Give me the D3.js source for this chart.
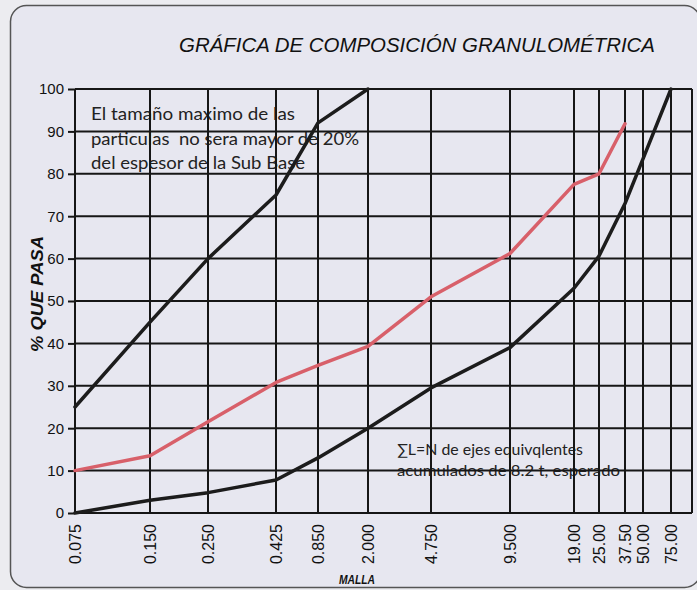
<!DOCTYPE html>
<html lang="es">
<head>
    <meta charset="UTF-8">
    <script src="https://cdnjs.cloudflare.com/ajax/libs/d3/7.8.5/d3.min.js"></script>
    <style>
        body { margin: 0; background: #ececf0; }
        svg { display: block; }
    </style>
</head>
<body>
    <div id="viz">
        <svg style="width:697px;height:590px;"></svg>
    </div>
    <script>
        // sieve sizes (mm) and their labels
        let mallas = [0.075, 0.150, 0.250, 0.425, 0.850, 2.000, 4.750, 9.500, 19.00, 25.00, 37.50, 50.00, 75.00];
        let mallaLabels = ["0.075", "0.150", "0.250", "0.425", "0.850", "2.000", "4.750", "9.500", "19.00", "25.00", "37.50", "50.00", "75.00"];
        let yTicks = [0, 10, 20, 30, 40, 50, 60, 70, 80, 90, 100];

        // upper limit (black), sample (red), lower limit (black)
        let limiteSuperior = [25, 45, 60, 75, 92, 100];
        let muestra = [10, 13.5, 21.5, 30.8, 34.8, 39.3, 51, 61.2, 77.5, 80, 91.8];
        let limiteInferior = [0, 3, 4.8, 7.8, 13, 20, 29.5, 39, 53, 60.6, 73, 83.5, 100];

        let nota1 = ["El tamaño maximo de las", "particulas  no sera mayor de 20%", "del espesor de la Sub Base"];
        let nota2 = ["∑L=N de ejes equivqlentes", "acumulados de 8.2 t, esperado"];

        // the sheet's vertical rules are hand placed, so the log axis is piecewise
        let xRange = [75, 150, 208, 276, 318, 368, 431, 510, 574, 599, 625, 643, 671];
        let plot = {left: 75, right: 692, top: 89, bottom: 513};

        let svg = d3.select("svg");

        // rounded sheet frame
        svg.append("rect")
            .attr("x", 10.5).attr("y", 5.5)
            .attr("width", 690).attr("height", 582)
            .attr("rx", 16)
            .attr("fill", "#e7e7f0")
            .attr("stroke", "#555")
            .attr("stroke-width", 1.5);

        let xScale = d3.scaleLog().domain(mallas).range(xRange);
        let yScale = d3.scaleLinear().domain([0, 100]).range([plot.bottom, plot.top]);

        // title
        svg.append("text")
            .attr("x", 417).attr("y", 52)
            .attr("text-anchor", "middle")
            .attr("font-family", "'Liberation Sans', Arial")
            .attr("font-style", "italic")
            .attr("font-size", 21)
            .attr("textLength", 476)
            .attr("lengthAdjust", "spacingAndGlyphs")
            .attr("fill", "#111")
            .text("GRÁFICA DE COMPOSICIÓN  GRANULOMÉTRICA");

        // notes (drawn under the grid, like the sheet)
        let note1W = [204, 268, 214];
        svg.append("g").selectAll("text")
            .data(nota1)
            .enter()
            .append("text")
            .attr("x", 91).attr("y", (d, i) => 120 + i * 24.5)
            .attr("font-family", "Lato, 'Open Sans', sans-serif")
            .attr("font-size", 18)
            .attr("fill", "#222")
            .attr("xml:space", "preserve")
            .attr("textLength", (d, i) => note1W[i])
            .attr("lengthAdjust", "spacingAndGlyphs")
            .text(d => d);

        let note2W = [186, 223];
        svg.append("g").selectAll("text")
            .data(nota2)
            .enter()
            .append("text")
            .attr("x", 397).attr("y", (d, i) => 455 + i * 20.5)
            .attr("font-family", "Lato, 'Open Sans', sans-serif")
            .attr("font-size", 15)
            .attr("fill", "#222")
            .attr("textLength", (d, i) => note2W[i])
            .attr("lengthAdjust", "spacingAndGlyphs")
            .text(d => d);

        // grid
        let grid = svg.append("g").attr("stroke", "#161616").attr("stroke-width", 2);
        grid.selectAll("line.h")
            .data(yTicks)
            .enter()
            .append("line")
            .attr("x1", plot.left).attr("x2", plot.right)
            .attr("y1", d => yScale(d)).attr("y2", d => yScale(d));
        grid.selectAll("line.v")
            .data(mallas)
            .enter()
            .append("line")
            .attr("x1", d => xScale(d)).attr("x2", d => xScale(d))
            .attr("y1", plot.top).attr("y2", plot.bottom);
        grid.append("line")
            .attr("x1", plot.right).attr("x2", plot.right)
            .attr("y1", plot.top).attr("y2", plot.bottom);

        // y axis
        let yAxis = d3.axisLeft(yScale).tickValues(yTicks).tickSize(7).tickPadding(4);
        let yAxisG = svg.append("g")
            .attr("id", "yAxisG")
            .attr("transform", `translate(${plot.left},0)`)
            .call(yAxis);
        yAxisG.select(".domain").remove();
        yAxisG.selectAll("line").attr("stroke", "#161616").attr("stroke-width", 2);
        yAxisG.selectAll("text")
            .attr("font-family", "'Liberation Sans', Arial")
            .attr("font-size", 15)
            .attr("fill", "#111");

        // x axis labels, rotated
        let xAxis = d3.axisBottom(xScale).tickValues(mallas).tickSize(0)
            .tickFormat((d, i) => mallaLabels[i]);
        let xAxisG = svg.append("g")
            .attr("id", "xAxisG")
            .attr("transform", `translate(0,${plot.bottom})`)
            .call(xAxis);
        xAxisG.select(".domain").remove();
        xAxisG.selectAll("text")
            .attr("font-family", "'Liberation Sans', Arial")
            .attr("font-size", 16)
            .attr("fill", "#111")
            .attr("text-anchor", "end")
            .attr("dy", "0.35em")
            .attr("transform", "translate(0,11) rotate(-90)")
            .attr("x", 0).attr("y", 0);

        // axis titles
        svg.append("text")
            .attr("transform", "translate(43,294) rotate(-90)")
            .attr("text-anchor", "middle")
            .attr("font-family", "'Liberation Sans', Arial")
            .attr("font-style", "italic")
            .attr("font-weight", "bold")
            .attr("font-size", 17)
            .attr("textLength", 116)
            .attr("lengthAdjust", "spacingAndGlyphs")
            .attr("fill", "#111")
            .text("% QUE PASA");
        svg.append("text")
            .attr("x", 357).attr("y", 584)
            .attr("text-anchor", "middle")
            .attr("font-family", "'Liberation Sans', Arial")
            .attr("font-style", "italic")
            .attr("font-weight", "bold")
            .attr("font-size", 12)
            .attr("textLength", 36)
            .attr("lengthAdjust", "spacingAndGlyphs")
            .attr("fill", "#111")
            .text("MALLA");

        // curves
        let line = d3.line()
            .x(d => xScale(d[0]))
            .y(d => yScale(d[1]));
        let series = [
            {values: limiteSuperior, color: "#1c1c1c"},
            {values: muestra, color: "#d8606a"},
            {values: limiteInferior, color: "#1c1c1c"}
        ];
        svg.selectAll("path.curve")
            .data(series)
            .enter()
            .append("path")
            .attr("class", "curve")
            .attr("fill", "none")
            .attr("stroke", d => d.color)
            .attr("stroke-width", 3.5)
            .attr("stroke-linejoin", "round")
            .attr("stroke-linecap", "round")
            .attr("d", d => line(d.values.map((v, i) => [mallas[i], v])));
    </script>
</body>
</html>
